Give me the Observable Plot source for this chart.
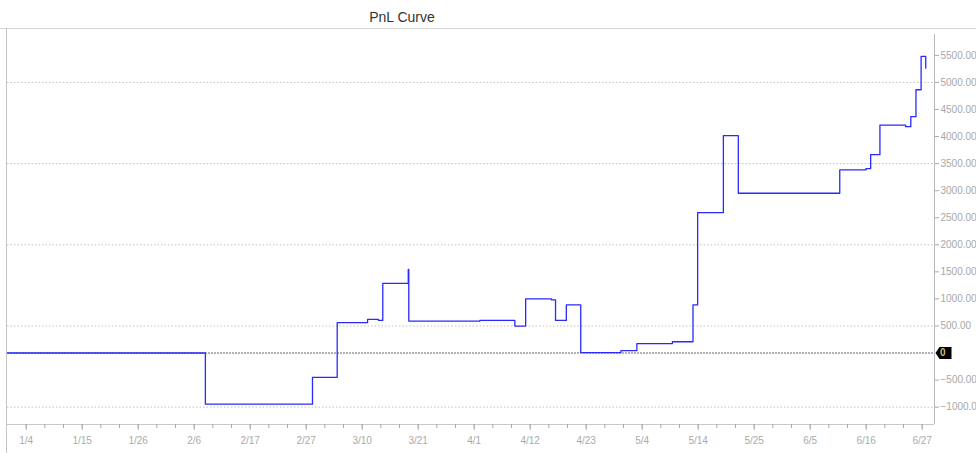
<!DOCTYPE html>
<html><head><meta charset="utf-8">
<script src="https://cdn.jsdelivr.net/npm/d3@7"></script>
<script src="https://cdn.jsdelivr.net/npm/@observablehq/plot@0.6"></script>
<style>
body{margin:0;background:#fff;font-family:"Liberation Sans",Arial,sans-serif;}
#wrap{position:relative;width:976px;height:462px;overflow:hidden;background:#fff}
#title{position:absolute;left:0;top:3px;width:804px;text-align:center;font-size:14px;color:#333;line-height:28px;height:28px}
#topline{position:absolute;left:0;top:28px;width:976px;height:1px;background:#d4d4d4}
#leftline{position:absolute;left:6px;top:28px;width:1px;height:425px;background:#c4c4c4}
#chart{position:absolute;left:0;top:28px}
</style>
</head><body>
<div id="wrap">
  <div id="title">PnL Curve</div>
  <div id="chart"></div>
  <div id="topline"></div>
  <div id="leftline"></div>
</div>
<script>
// Days since 1/4 at which the PnL steps to a new value
const stepDay = [-3.63, 34.8, 55.6, 60.4, 66.3, 68.4, 69.25, 74.2, 74.3, 88.1, 94.9, 97.0, 102.0, 102.8, 104.9, 107.7, 115.5, 118.6, 125.5, 129.5, 130.4, 135.4, 138.3, 158.0, 163.1, 164.0, 165.8, 170.8, 171.8, 172.8, 173.8, 174.7];
const pnl = [0, -945, -450, 560, 620, 603, 1286, 1544, 590, 603, 498, 1002, 983, 603, 891, 8, 45, 175, 208, 891, 2596, 4017, 2952, 3383, 3408, 3666, 4212, 4182, 4367, 4865, 5480, 5264];

const xLabels = ["1/4","1/15","1/26","2/6","2/17","2/27","3/10","3/21","4/1","4/12","4/23","5/4","5/14","5/25","6/5","6/16","6/27"];
const yTicks = [-1000,-500,500,1000,1500,2000,2500,3000,3500,4000,4500,5000,5500];
const gridValues = [-1000,500,2000,3500,5000];
const zeroLevel = [0];

const xDomain = [-3.63, 176.4];
const yDomain = [-1321, 5886];
const span = 174; // days from first to last label
const labelPos = xLabels.map((_, i) => i * span / (xLabels.length - 1));
const minorPos = d3.range(0, (xLabels.length - 1) * 3 + 1).map(i => i * span / ((xLabels.length - 1) * 3));

const rows = stepDay.map((d, i) => ({day: d, pnl: pnl[i]}));

const tagSymbol = {
  draw(ctx) {
    ctx.moveTo(-8, 0);
    ctx.lineTo(-4, -6);
    ctx.lineTo(8, -6);
    ctx.lineTo(8, 6);
    ctx.lineTo(-4, 6);
    ctx.closePath();
  }
};

const chart = Plot.plot({
  width: 976,
  height: 434,
  marginTop: 6,
  marginBottom: 38,
  marginLeft: 7,
  marginRight: 42,
  style: {fontFamily: '"Liberation Sans", Arial, sans-serif', background: "transparent"},
  x: {domain: xDomain, axis: null, label: null},
  y: {domain: yDomain, axis: null, label: null},
  marks: [
    Plot.ruleY(gridValues, {stroke: "#c2c2c2", strokeDasharray: "1.5,2"}),
    Plot.ruleY(zeroLevel, {stroke: "#666", strokeDasharray: "2,1", strokeWidth: 1}),
    Plot.ruleX([xDomain[1]], {stroke: "#b8b8b8"}),
    Plot.ruleY([yDomain[0]], {stroke: "#c8c8c8"}),
    Plot.axisX({anchor: "bottom", ticks: minorPos, tickSize: 4, tickFormat: () => "", color: "#aaa", label: null}),
    Plot.axisX({anchor: "bottom", ticks: labelPos, tickSize: 6, tickPadding: 6, fontSize: 10,
      tickFormat: d => xLabels[labelPos.indexOf(d)], color: "#aaa", label: null}),
    Plot.axisY({anchor: "right", ticks: yTicks, tickSize: 4, tickPadding: 2, fontSize: 10,
      tickFormat: d3.format(".2f"), color: "#a8a8a8", label: null}),
    Plot.line(rows, {x: "day", y: "pnl", curve: "step-after", stroke: "#2a2aff", strokeWidth: 1.3}),
    Plot.dot(zeroLevel, {y: d => d, frameAnchor: "right", dx: 9, symbol: tagSymbol, fill: "#000", stroke: "none"}),
    Plot.text(zeroLevel, {y: d => d, frameAnchor: "right", dx: 11, text: d => String(d), fill: "#d8bb6a", fontSize: 10, fontWeight: "bold"})
  ]
});
document.getElementById("chart").appendChild(chart);
</script>
</body></html>
